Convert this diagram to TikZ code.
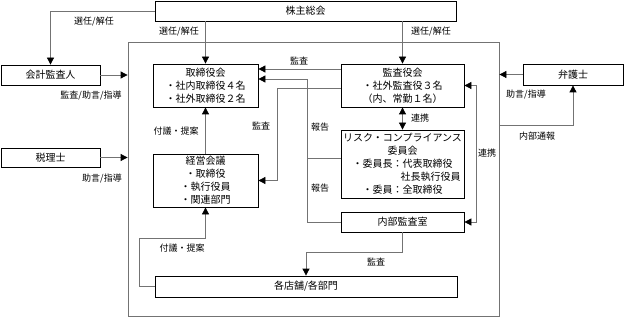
\documentclass[tikz,border=0pt]{standalone}
\usepackage{fontspec}
\setmainfont{Noto Sans CJK JP}
\usetikzlibrary{arrows.meta}

\begin{document}
\begin{tikzpicture}[x=1pt,y=-1pt,
  box/.style={draw=black,line width=0.8pt,inner sep=0pt,align=center,font=\fontsize{10}{13}\selectfont},
  conn/.style={draw=black!55,line width=0.8pt},
  tip/.style={-{Triangle[length=7pt,width=7pt,color=black]}},
  tips/.style={{Triangle[length=7pt,width=7pt,color=black]}-{Triangle[length=7pt,width=7pt,color=black]}},
  lab/.style={font=\fontsize{9}{11}\selectfont,inner sep=0pt}]
  \useasboundingbox (0,0) rectangle (624,318);
  % outer frame
  \node[draw=black!55,line width=0.8pt,minimum width=371pt,minimum height=274pt,inner sep=0pt] (frame) at (313.5,179) {};
  % boxes
  \node[box,minimum width=301pt,minimum height=20pt] (soukai) at (305.5,11) {株主総会};
  \node[box,minimum width=99pt,minimum height=20pt] (kaikei) at (50.5,75) {会計監査人};
  \node[box,minimum width=99pt,minimum height=19pt] (zeiri) at (50.5,157.5) {税理士};
  \node[box,minimum width=100pt,minimum height=21pt] (bengo) at (573,74.5) {弁護士};
  \node[box,minimum width=105pt,minimum height=43pt] (torishimari) at (205.5,85.5) {取締役会\\・社内取締役４名\\・社外取締役２名};
  \node[box,minimum width=123pt,minimum height=43pt] (kansayaku) at (402.5,85.5) {監査役会\\・社外監査役３名\\（内、常勤１名）};
  \node[box,minimum width=105pt,minimum height=53pt] (keiei) at (205.5,180.5) {経営会議\\・取締役\\・執行役員\\・関連部門};
  \node[box,minimum width=123pt,minimum height=68pt] (risk) at (402.5,164) {リスク・コンプライアンス\\委員会\\・委員長：代表取締役\\\hspace*{56pt}社長執行役員\\・委員：全取締役};
  \node[box,minimum width=123pt,minimum height=20pt] (naibu) at (402.5,222) {内部監査室};
  \node[box,minimum width=302pt,minimum height=21pt] (tenpo) at (306,286.5) {各店舗/各部門};
  % bend points
  \coordinate (tsuho) at (499,125);
  \coordinate (houkoku) at (307,79);
  \coordinate (kansa2) at (277,88);
  \coordinate (renkei) at (476,85.5);
  \coordinate (kansa3) at (306,252);
  \coordinate (fugi) at (139,238);
  % connectors
  \draw[conn,tip] (soukai.west) -| (kaikei.north);
  \draw[conn,tip] (soukai.south -| torishimari.north) -- (torishimari.north);
  \draw[conn,tip] (soukai.south -| kansayaku.north) -- (kansayaku.north);
  \draw[conn,tip] (kaikei.east) -- (kaikei.east -| frame.west);
  \draw[conn,tip] (zeiri.east) -- (zeiri.east -| frame.west);
  \draw[conn,tip] (bengo.west) -- (bengo.west -| frame.east);
  \draw[conn,tip] (tsuho) -| (bengo.south);
  \draw[conn,tip] (keiei.north) -- (torishimari.south);
  \draw[conn,tip] ([yshift=16.5pt]kansayaku.west) -- ([yshift=16.5pt]torishimari.east);
  \draw[conn,tip] (naibu.west) -| (houkoku) -- (houkoku -| torishimari.east);
  \draw[conn] ([yshift=6pt]risk.west) -- ([yshift=6pt]risk.west -| houkoku);
  \draw[conn,tip] (kansa2 -| kansayaku.west) -- (kansa2) |- (keiei.east);
  \draw[conn,tips] (kansayaku.south) -- (risk.north);
  \draw[conn,tips] (kansayaku.east) -- (renkei) |- (naibu.east);
  \draw[conn,tip] (naibu.south) |- (kansa3) -- (kansa3 |- tenpo.north);
  \draw[conn,tip] (tenpo.west) -| (fugi) -| (keiei.south);
  % labels
  \node[lab] (l-sennin1) at (94,22) {選任/解任};
  \node[lab] (l-sennin2) at (179,32) {選任/解任};
  \node[lab] (l-sennin3) at (431,32) {選任/解任};
  \node[lab] (l-kaikei) at (91,96) {監査/助言/指導};
  \node[lab] (l-zeiri) at (102,179) {助言/指導};
  \node[lab] (l-bengo) at (526,95) {助言/指導};
  \node[lab] (l-tsuho) at (537,136) {内部通報};
  \node[lab] (l-fugi1) at (176,131) {付議・提案};
  \node[lab] (l-kansa1) at (299,61) {監査};
  \node[lab] (l-kansa2) at (261,126) {監査};
  \node[lab] (l-houkoku1) at (320,127) {報告};
  \node[lab] (l-houkoku2) at (320,188) {報告};
  \node[lab] (l-renkei1) at (420,118) {連携};
  \node[lab] (l-renkei2) at (487,153) {連携};
  \node[lab] (l-kansa3) at (376,262) {監査};
  \node[lab] (l-fugi2) at (182,248) {付議・提案};
\end{tikzpicture}
\end{document}
